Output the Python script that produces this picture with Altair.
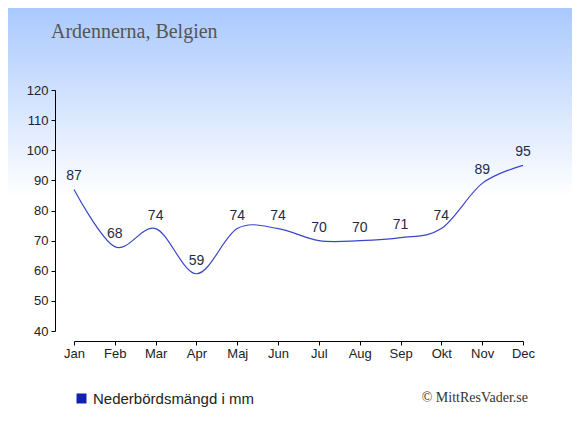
import altair as alt
import pandas as pd

months = ["Jan", "Feb", "Mar", "Apr", "Maj", "Jun", "Jul", "Aug", "Sep", "Okt", "Nov", "Dec"]
precip = [87, 68, 74, 59, 74, 74, 70, 70, 71, 74, 89, 95]
series_name = "Nederbördsmängd i mm"
title_text = "Ardennerna, Belgien"
credit_text = "© MittResVader.se"
y_ticks = [40, 50, 60, 70, 80, 90, 100, 110, 120]

df = pd.DataFrame({"month": months, "mm": precip, "series": [series_name] * len(months)})

W, H = 449, 241
PAD_L, PAD_T, PAD_R, PAD_B = 66, 82, 49, 96

x_enc = alt.X(
    "month:N", sort=months, scale=alt.Scale(type="point", padding=0),
    axis=alt.Axis(title=None, labelAngle=0, offset=10, tickSize=4, labelPadding=2,
                  labelFont="Liberation Sans", labelFontSize=13, labelColor="#222",
                  domainColor="#000", tickColor="#000", grid=False, zindex=2))
y_enc = alt.Y(
    "mm:Q", scale=alt.Scale(domain=[40, 120], nice=False, zero=False),
    axis=alt.Axis(title=None, values=y_ticks, offset=19, tickSize=4, labelPadding=3,
                  labelFont="Liberation Sans", labelFontSize=13, labelColor="#222",
                  domainColor="#000", tickColor="#000", grid=False, zindex=2))

bg = alt.Chart(pd.DataFrame({"a": [0]})).mark_rect(
    color=alt.Gradient(gradient="linear", x1=0, x2=0, y1=0, y2=1,
                       stops=[alt.GradientStop(color="#a9c9fd", offset=0),
                              alt.GradientStop(color="#ffffff", offset=0.45),
                              alt.GradientStop(color="#ffffff", offset=1)])
).encode(x=alt.value(-PAD_L), x2=alt.value(W + PAD_R), y=alt.value(-PAD_T), y2=alt.value(H + PAD_B))

base = alt.Chart(df)

line = base.mark_line(interpolate="cardinal", tension=0, color="#3a46c8", strokeWidth=1.2).encode(
    x=x_enc, y=y_enc)

legend_layer = base.mark_square(opacity=0, size=100).encode(
    x=x_enc, y=y_enc,
    color=alt.Color("series:N", scale=alt.Scale(domain=[series_name], range=["#1020b0"]),
                    legend=alt.Legend(title=None, orient="none", legendX=0, legendY=301,
                                      symbolType="square", symbolSize=100, symbolOpacity=1,
                                      symbolStrokeWidth=0, labelFont="Liberation Sans",
                                      labelFontSize=15, labelColor="#222", labelOffset=4,
                                      labelLimit=400, padding=0, zindex=2)))

labels = base.mark_text(dy=-13, fontSize=14, font="Liberation Sans", color="#1c2a4a",
                        baseline="middle").encode(x=x_enc, y=y_enc, text="mm:Q")

title = alt.Chart(pd.DataFrame({"t": [title_text]})).mark_text(
    align="left", baseline="alphabetic", font="Liberation Serif", fontSize=20, color="#555"
).encode(x=alt.value(-23), y=alt.value(-52), text="t:N")

credit = alt.Chart(pd.DataFrame({"t": [credit_text]})).mark_text(
    align="right", baseline="alphabetic", font="Liberation Serif", fontSize=14, color="#333"
).encode(x=alt.value(454), y=alt.value(312), text="t:N")

chart = alt.layer(bg, line, legend_layer, labels, title, credit).properties(
    width=W, height=H,
    autosize=alt.AutoSizeParams(type="none"),
    padding={"left": PAD_L, "top": PAD_T, "right": PAD_R, "bottom": PAD_B},
).configure_view(stroke=None).configure(background="white")

chart.save("out.html", embed_options={"renderer": "svg", "actions": False})
